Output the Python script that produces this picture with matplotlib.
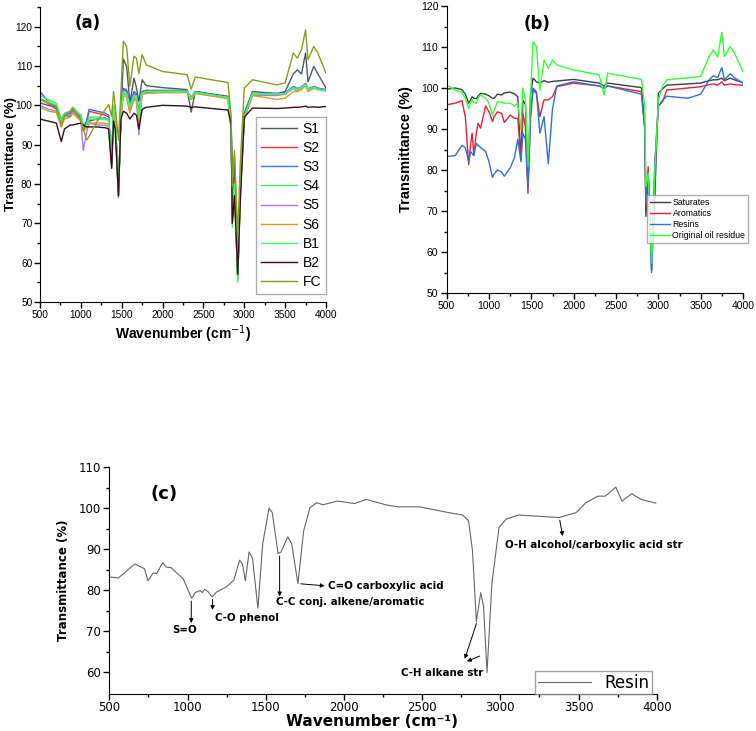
import matplotlib
matplotlib.use('Agg')
import matplotlib.pyplot as plt

# ---------------- data ----------------
# panel (a)
wn_a = [500, 600, 700, 760, 800, 870, 900, 1000, 1030, 1070, 1100, 1200, 1300, 1340,
        1377, 1400, 1420, 1460, 1490, 1520, 1560, 1600, 1650, 1680, 1710, 1750, 1800,
        2000, 2300, 2350, 2400, 2800, 2840, 2853, 2880, 2920, 2950, 3000, 3100, 3400,
        3500, 3600, 3650, 3700, 3750, 3780, 3850, 3900, 4000]
S1 = [100.6, 100, 99.6, 95.5, 97.5, 97, 98.5, 96.5, 93.5, 95.5, 96, 96.5, 96.8, 96,
      86, 99.5, 97, 77, 97, 111.8, 109.9, 100.6, 106.9, 104.5, 101, 106.5, 105,
      104.5, 104, 98.3, 103.5, 102.3, 95, 71, 87, 57, 78, 98, 103.5, 103,
      103.5, 108, 109, 108, 113.3, 106, 109.9, 108, 104.4]
S2 = [101.5, 100.5, 99, 96, 97.5, 98, 99, 97, 94, 95.5, 98.5, 98, 97.5, 97,
      86, 99.5, 97.5, 78, 97, 104, 103.5, 100, 103, 102.5, 98, 103.5, 103.8,
      103.5, 103.7, 101.5, 103.5, 102, 95, 72, 81, 57, 78, 97, 103, 102.8,
      103, 104.5, 104, 104.5, 105.5, 104, 104.8, 104.3, 103.8]
S3 = [103.5, 101, 99.5, 96, 97.5, 98, 98.5, 97, 94.5, 96, 99, 98.5, 98, 97.5,
      85, 100, 98, 77.5, 97.5, 104.3, 104, 100.5, 103.5, 103, 97.5, 103.5, 103.8,
      103.8, 103.8, 102, 103.5, 102, 95, 72, 80, 56, 78, 97, 103, 103,
      103.2, 104.8, 104.3, 104.6, 105.6, 104.2, 104.8, 104.4, 104]
S4 = [102.5, 101.5, 100.5, 96.5, 98, 98.5, 99.5, 97.5, 94.5, 95, 97, 97, 96.5, 96.5,
      85, 100, 97.5, 77.5, 98, 103.5, 103, 99.5, 102.5, 102.5, 97, 103.3, 103.5,
      103.6, 103.6, 101.8, 103.3, 102, 94, 70, 80, 55.5, 78, 97, 103, 102.8,
      103, 104.5, 104, 104.4, 105.5, 104, 104.6, 104.2, 103.8]
S5 = [100, 99, 98.5, 95.5, 97, 97.5, 98.5, 96, 88.5, 93, 95.5, 95, 95, 94.5,
      84, 99, 96.5, 76.5, 97, 103, 102.5, 98.5, 102, 101.5, 92.5, 103, 103.3,
      103.5, 103.5, 101.5, 103.2, 101.8, 94, 71, 79, 56, 77, 96.5, 102.5, 102.5,
      102.8, 104.3, 103.5, 104.8, 105.5, 103.8, 104.5, 104.2, 103.8]
S6 = [99.5, 98.5, 98.2, 94.5, 96.5, 97, 98, 96, 93.5, 94, 95.5, 95.5, 95.5, 95,
      85, 99.3, 96.5, 77, 96.5, 102.5, 102, 98, 101.5, 101, 96, 102.8, 103,
      103.2, 103.2, 101.5, 103, 101.7, 94, 71, 79, 56.5, 77, 96.5, 102.5, 101.5,
      101.8, 103.5, 103.5, 104, 105, 103.5, 104.3, 104, 103.7]
B1 = [101.5, 101, 100, 96, 97.5, 98.5, 99.5, 97.5, 95, 94.5, 96.5, 96.5, 96.5, 96,
      85, 100, 97.5, 78, 97.5, 103.5, 103, 99.5, 102.5, 102, 97, 103, 103.5,
      103.5, 103.5, 101.8, 103.3, 102, 93, 69, 80, 55, 77, 97, 103, 102.8,
      103, 104.5, 104, 104.5, 105.2, 104, 104.6, 104, 103.6]
B2 = [96.5, 96, 95.5, 90.8, 94, 95, 95, 95.5, 95, 94.5, 94.5, 94.5, 94.3, 94,
      84, 96, 94, 77, 96.5, 98.5, 98, 96.5, 98, 97.5, 94, 99, 99.5,
      100, 99.8, 99.5, 99.6, 98.8, 95, 70, 77, 57, 75, 97, 99.3, 99.2,
      99.3, 99.5, 99.5, 99.6, 99.8, 99.5, 99.6, 99.5, 99.7]
FC = [101.8, 100.5, 99.7, 94.6, 97.6, 98.5, 99.3, 96.3, 94, 91.2, 92, 96, 99, 100.2,
      97.2, 103.5, 100, 91.2, 103.1, 116.3, 115, 104.8, 112.5, 112, 108, 112.9, 110.3,
      108.6, 107.8, 104.1, 107.2, 105.8, 97.2, 79.4, 88.5, 66.6, 85, 104.4, 106.5, 105.2,
      105.7, 113.3, 112, 114.1, 119.2, 111.6, 115, 113.3, 108.2]
names_a = ['S1', 'S2', 'S3', 'S4', 'S5', 'S6', 'B1', 'B2', 'FC']
colors_a = ['#4b5b5e', '#f0303c', '#3372f0', '#45e868', '#b07ae0', '#d4a01e',
            '#33ff66', '#3c0b22', '#8a9e1c']

# panel (b)
wn_b = [500, 600, 680, 720, 760, 780, 800, 820, 850, 870, 900, 960, 1000, 1040, 1060,
        1100, 1150, 1180, 1250, 1300, 1340, 1377, 1400, 1430, 1460, 1490, 1520, 1560,
        1600, 1650, 1700, 1750, 1800, 2000, 2300, 2360, 2400, 2800, 2840, 2853, 2880,
        2920, 2960, 3000, 3050, 3100, 3350, 3500, 3600, 3650, 3700, 3750, 3780, 3850,
        3900, 4000]
saturates = [99.7, 100, 99.6, 98.5, 96.3, 97, 97.9, 97.5, 97.4, 98, 98.7, 98.5, 98.1, 97.5, 97.5,
             98.5, 98.3, 98.8, 99, 98.6, 97.9, 82.5, 97, 96, 76, 98.5, 102.4, 101.5,
             101.2, 101.8, 101.4, 101.6, 101.7, 102.1, 101.2, 100.5, 101.2, 100.1, 90.6, 68.7, 79,
             55.5, 74.3, 98.7, 99.8, 100.7, 101, 101.2, 101.8, 102, 102, 102.4, 101.8, 102.4,
             102, 101.3]
aromatics = [95.9, 96.3, 96.9, 93, 81.3, 85.7, 89, 83.7, 89, 91.4, 90.2, 95.6, 94.2, 91.8, 93,
             94.2, 93.8, 91.6, 93.4, 92.6, 92.6, 82.5, 93.8, 90.6, 74.3, 94.6, 99.5, 98.7,
             93, 97.1, 97.1, 97.9, 100.3, 101.2, 100.5, 100, 100.5, 99.1, 90, 71.1, 80.8,
             58.1, 82, 95.6, 96.7, 99.5, 100, 100.3, 100.8, 101, 100.7, 101.5, 100.7, 101,
             100.8, 100.7]
resins_b = [83.3, 83.5, 86, 85.5, 82, 84.5, 84, 83.5, 86.5, 86, 85.5, 84.5, 82, 78.2, 79,
            80, 79.5, 78.5, 80.5, 83, 87.5, 82, 89, 87.5, 75.5, 92, 100, 99,
            89, 93, 81.5, 95, 100.5, 101.5, 100.5, 100, 100.5, 98.5, 90, 72, 79,
            55, 82, 95.5, 97, 98, 97.5, 98.5, 102, 103, 102.5, 105, 102, 103.5,
            102.5, 101.2]
original = [100.7, 99.5, 98.9, 97.5, 95, 96.5, 97.1, 96.5, 96.3, 97.5, 98.3, 97.5, 96.3, 93.4, 94.5,
            96.7, 96.5, 96.3, 96.3, 95.6, 96.3, 89.8, 100, 97.1, 80.8, 97.9, 111.3, 110.1,
            99.5, 106.8, 104.8, 106.8, 105.6, 104.4, 103.2, 98.3, 103.6, 102.1, 95.5, 76, 79.2,
            57.3, 80, 97.1, 100.5, 102, 102.5, 102.8, 107.7, 109.3, 107.5, 113.6, 107.7, 110.1,
            108.5, 104]

# panel (c)
wn_c = [500, 560, 663, 725, 747, 781, 802, 842, 864, 895, 925, 972, 1027, 1049, 1080,
        1095, 1110, 1132, 1157, 1188, 1249, 1296, 1333, 1351, 1370, 1394, 1416, 1450,
        1481, 1521, 1542, 1579, 1598, 1641, 1666, 1706, 1743, 1783, 1826, 1866, 1959,
        2067, 2144, 2267, 2344, 2483, 2668, 2760, 2797, 2822, 2847, 2875, 2893, 2915,
        2946, 2992, 3038, 3115, 3285, 3377, 3485, 3547, 3624, 3670, 3692, 3738, 3778,
        3840, 3901, 3994]
resin_c = [83.2, 83, 86.4, 85.2, 82.3, 84.2, 84, 86.7, 85.6, 85.5, 84.4, 82.8, 78, 79.4, 79.9,
           79.4, 80.2, 79.6, 78.4, 79.6, 80.8, 82.4, 87.3, 86.4, 82.3, 89.3, 87.7, 75.6,
           91.3, 100, 98.9, 88.9, 89.3, 93, 91.3, 81.6, 94.5, 100.1, 101.3, 100.8, 101.7,
           101.1, 102.1, 100.8, 100.3, 100.3, 98.9, 98.3, 96.9, 89.7, 72.4, 79.4, 76, 59.9,
           81.6, 95.3, 97.3, 98.3, 97.9, 97.7, 98.9, 101.3, 102.9, 102.9, 103.5, 105.1, 101.7,
           103.5, 102.1, 101.2]

# ---------------- figure ----------------
fig = plt.figure(figsize=(7.56, 7.31), dpi=100)
W, H = 756.0, 731.0


def box(x0, x1, y_top, y_bot):
    return [x0 / W, 1 - y_bot / H, (x1 - x0) / W, (y_bot - y_top) / H]


def style(ax, size, font):
    for s in ['top', 'right']:
        ax.spines[s].set_visible(False)
    ax.set_xlim(500, 4000)
    ax.set_xticks(range(500, 4001, 500))
    ax.set_xticks(range(750, 4000, 500), minor=True)
    ax.tick_params(which='major', direction='out', length=4, width=1, labelsize=size, pad=2)
    ax.tick_params(which='minor', direction='out', length=2.5, width=1)
    for t in ax.get_xticklabels() + ax.get_yticklabels():
        t.set_family(font)


# (a)
ax1 = fig.add_axes(box(40, 326, 7, 302))
for name, vals, c in zip(names_a, [S1, S2, S3, S4, S5, S6, B1, B2, FC], colors_a):
    ax1.plot(wn_a, vals, color=c, lw=1.0, label=name)
ax1.set_ylim(50, 125)
ax1.set_yticks(range(50, 121, 10))
ax1.set_yticks(range(55, 126, 10), minor=True)
style(ax1, 7.3, 'Liberation Sans')
ax1.tick_params(axis='y', pad=1.5)
ax1.set_ylabel('Transmittance (%)', fontsize=9.5, fontweight='bold', family='Liberation Sans')
ax1.yaxis.set_label_coords(-0.082, 0.5)
ax1.set_xlabel('Wavenumber (cm$^{-1}$)', fontsize=10, fontweight='bold',
               family='Liberation Sans', labelpad=2)
ax1.text(0.12, 0.93, '(a)', transform=ax1.transAxes, fontsize=12, fontweight='bold')
leg = ax1.legend(loc='upper right', bbox_to_anchor=(326 / W, 1 - 117 / H),
                 bbox_transform=fig.transFigure, frameon=True, fancybox=False,
                 handlelength=2.6, labelspacing=0.37, borderpad=0.35, handletextpad=0.4,
                 borderaxespad=0, prop={'family': 'Liberation Sans', 'size': 10})
leg.get_frame().set_edgecolor('#999999')
leg.get_frame().set_linewidth(1.0)

# (b)
ax2 = fig.add_axes(box(446.7, 743, 6, 293))
ax2.plot(wn_b, saturates, color='#3a4046', lw=1.0, label='Saturates')
ax2.plot(wn_b, aromatics, color='#e8203a', lw=1.0, label='Aromatics')
ax2.plot(wn_b, resins_b, color='#2f6fe0', lw=1.0, label='Resins')
ax2.plot(wn_b, original, color='#33ff33', lw=1.0, label='Original oil residue')
ax2.set_ylim(50, 120)
ax2.set_yticks(range(50, 121, 10))
ax2.set_yticks(range(55, 120, 10), minor=True)
style(ax2, 7.5, 'Liberation Sans')
ax2.set_ylabel('Transmittance (%)', fontsize=10.5, fontweight='bold',
               family='Liberation Sans', labelpad=6)
ax2.text(0.26, 0.92, '(b)', transform=ax2.transAxes, fontsize=12, fontweight='bold')
leg2 = ax2.legend(loc='upper right', bbox_to_anchor=(748 / W, 1 - 195 / H),
                  bbox_transform=fig.transFigure, frameon=True, fancybox=False,
                  handlelength=2.3, labelspacing=0.25, borderpad=0.3, handletextpad=0.3,
                  borderaxespad=0, prop={'family': 'Liberation Sans', 'size': 6.3})
leg2.get_frame().set_edgecolor('#999999')

# (c)
ax3 = fig.add_axes(box(109.3, 656.7, 467, 694))
ax3.plot(wn_c, resin_c, color='#666666', lw=0.8, label='Resin')
ax3.set_ylim(54.7, 110)
ax3.set_yticks(range(60, 111, 10))
ax3.set_yticks(range(65, 110, 10), minor=True)
style(ax3, 8.5, 'DejaVu Sans')
ax3.tick_params(axis='x', pad=1)
ax3.set_ylabel('Transmittance (%)', fontsize=8.5, fontweight='bold', labelpad=6)
fig.text(372 / W, 1 - 722 / H, 'Wavenumber (cm\u207b\u00b9)', fontsize=11,
         fontweight='bold', ha='center', va='center')
ax3.text(0.075, 0.88, '(c)', transform=ax3.transAxes, fontsize=13, fontweight='bold',
         family='Liberation Sans Narrow', va='center')
leg3 = ax3.legend(loc='upper right', bbox_to_anchor=(652 / W, 1 - 671 / H),
                  bbox_transform=fig.transFigure, frameon=True, fancybox=False,
                  handlelength=3.2, borderpad=0.15, handletextpad=0.8, borderaxespad=0,
                  prop={'size': 12})
leg3.get_frame().set_edgecolor('#888888')

arr = dict(arrowstyle='-|>', color='black', lw=0.7, mutation_scale=6)
fs = 7.4
ax3.annotate('', xy=(1024, 71.3), xytext=(1024, 78), arrowprops=arr)
ax3.text(981, 70.4, 'S=O', fontsize=fs, fontweight='bold', ha='center', va='center')
ax3.annotate('', xy=(1160, 74.5), xytext=(1160, 78.4), arrowprops=arr)
ax3.text(1178, 73.1, 'C-O phenol', fontsize=fs, fontweight='bold', ha='left', va='center')
ax3.annotate('', xy=(1589, 77.8), xytext=(1589, 89), arrowprops=arr)
ax3.text(1564, 77.0, 'C-C conj. alkene/aromatic', fontsize=fs, fontweight='bold',
         ha='left', va='center')
ax3.annotate('', xy=(1895, 81.0), xytext=(1706, 81.6), arrowprops=arr)
ax3.text(1897, 81.0, 'C=O carboxylic acid', fontsize=fs, fontweight='bold',
         ha='left', va='center')
ax3.annotate('', xy=(2767, 62.6), xytext=(2853, 72.5), arrowprops=arr)
ax3.annotate('', xy=(2770, 62.4), xytext=(2884, 64.2), arrowprops=arr)
ax3.text(2631, 59.9, 'C-H alkane str', fontsize=fs, fontweight='bold', ha='center',
         va='center')
ax3.annotate('', xy=(3402, 92.5), xytext=(3377, 97.7), arrowprops=arr)
ax3.text(3029, 91.1, 'O-H alcohol/carboxylic acid str', fontsize=fs, fontweight='bold',
         ha='left', va='center')

fig.savefig('out.png', dpi=100)
